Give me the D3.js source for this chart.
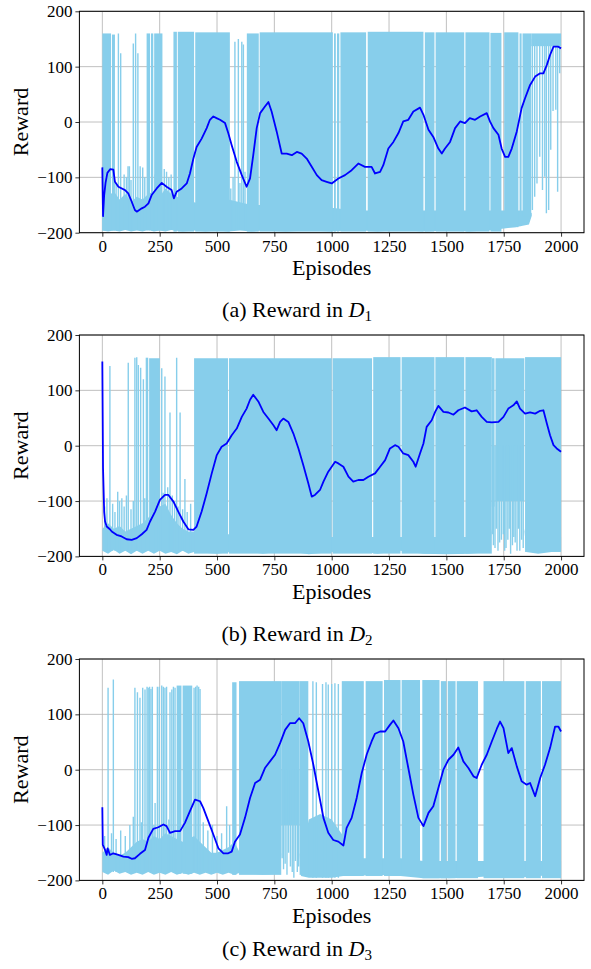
<!DOCTYPE html>
<html>
<head>
<meta charset="utf-8">
<script src="https://cdn.jsdelivr.net/npm/d3@7"></script>
<style>
  body { margin: 0; background: #fff; }
  svg { display: block; }
  text { font-family: "Liberation Serif", "Times New Roman", serif; fill: #000; }
</style>
</head>
<body>
<div id="chart"></div>
<script>
// x ticks shared by the three panels
var episodeTicks = [0, 250, 500, 750, 1000, 1250, 1500, 1750, 2000];
var rewardTicks = [-200, -100, 0, 100, 200];

// ---- D1 ----
// moving average reward [episode, reward]
var smoothD1 = [[0,-82],[3,-170],[8,-132],[14,-110],[22,-92],[35,-85],[48,-86],[55,-108],[70,-117],[99,-123],[113,-129],[128,-144],[142,-159],[150,-162],[172,-156],[186,-153],[201,-147],[215,-132],[237,-120],[259,-110],[280,-117],[302,-123],[312,-138],[324,-126],[346,-120],[368,-111],[382,-93],[397,-66],[411,-45],[433,-30],[455,-11],[469,4],[484,10],[498,7],[513,4],[535,-2],[549,-20],[564,-42],[586,-72],[608,-96],[629,-117],[644,-102],[658,-60],[673,-11],[688,16],[709,28],[724,36],[738,19],[760,-17],[782,-57],[804,-57],[826,-60],[848,-54],[869,-57],[891,-66],[913,-81],[935,-96],[956,-105],[978,-108],[1000,-111],[1029,-102],[1058,-96],[1087,-87],[1116,-75],[1145,-81],[1174,-81],[1189,-93],[1211,-90],[1225,-78],[1247,-48],[1269,-36],[1291,-20],[1312,1],[1334,4],[1356,19],[1385,26],[1400,13],[1422,-14],[1443,-27],[1465,-48],[1480,-57],[1494,-48],[1516,-36],[1538,-11],[1560,1],[1581,-2],[1602,7],[1625,4],[1647,10],[1676,16],[1690,1],[1705,-11],[1727,-23],[1741,-48],[1756,-63],[1770,-63],[1785,-48],[1807,-17],[1828,25],[1843,43],[1865,67],[1887,82],[1909,88],[1923,88],[1938,103],[1952,121],[1967,136],[1988,136],[2000,133]];
// raw reward: band of failed episodes [episode, low, high]
var baseD1 = [[0,-196,-120],[25,-198,-135],[50,-196,-125],[75,-198,-140],[100,-195,-130],[125,-198,-145],[150,-196,-135],[175,-198,-140],[200,-195,-130],[225,-198,-125],[250,-196,-135],[275,-198,-120],[300,-195,-130],[350,-198,-140],[400,-196,-145],[450,-198,-150],[500,-196,-150],[550,-198,-140],[600,-196,-145],[650,-198,-150],[700,-196,-150],[800,-198,-155],[900,-196,-155],[1000,-198,-155],[1100,-195,-160],[1200,-198,-160],[1300,-195,-160],[1400,-198,-160],[1500,-196,-160],[1600,-198,-160],[1700,-195,-160],[1800,-190,-160],[1860,-185,-160],[1872,-170,-165]];
// raw reward: stretches of dense oscillation [from, to, low, high]
var runsD1 = [[0,38,-196,160],[42,55,-196,158],[193,208,-196,160],[212,222,-196,160],[226,262,-196,160],[310,325,-198,163],[329,400,-198,163],[405,556,-198,162],[630,682,-198,160],[686,1005,-198,162],[1010,1018,-198,160],[1023,1033,-198,160],[1038,1150,-198,162],[1157,1400,-198,163],[1406,1448,-198,162],[1453,1578,-198,162],[1583,1688,-198,162],[1692,1740,-198,161],[1752,1814,-190,162],[1819,1828,-188,160],[1832,1870,-170,160],[1870,2000,137,160]];
// raw reward: isolated episodes [episode, low, high]
var spikesD1 = [[60,-195,-110],[70,-195,160],[80,-195,124],[95,-195,-95],[105,-195,-100],[112,-195,-80],[118,-195,-80],[125,-195,-105],[135,-195,142],[145,-195,160],[155,-195,124],[165,-195,-80],[176,-195,-82],[185,-195,-100],[230,-195,-95],[245,-195,-110],[270,-195,-85],[280,-195,-90],[290,-195,-100],[300,-195,-95],[560,-195,-120],[570,-195,-100],[578,-195,145],[593,-195,150],[600,-195,-110],[608,-195,145],[615,-195,140],[622,-195,-90],[1875,-159,150],[1885,-135,150],[1895,-111,150],[1907,-63,150],[1919,-123,150],[1929,-99,150],[1936,-165,150],[1946,-159,150],[1955,-50,150],[1965,20,150],[1977,22,150],[1985,-126,150],[1994,88,150]];

// ---- D2 ----
var smoothD2 = [[0,152],[3,-40],[8,-120],[12,-137],[19,-146],[33,-151],[41,-155],[62,-161],[84,-164],[106,-169],[128,-170],[150,-167],[172,-160],[193,-152],[208,-137],[230,-119],[251,-98],[273,-89],[288,-89],[310,-101],[331,-119],[353,-137],[375,-151],[397,-152],[411,-146],[433,-119],[455,-86],[477,-50],[499,-17],[520,-2],[542,4],[564,19],[586,31],[608,52],[629,67],[644,83],[658,92],[680,80],[702,61],[724,49],[746,37],[760,28],[775,43],[789,49],[811,43],[833,22],[855,-5],[876,-35],[898,-68],[913,-92],[927,-89],[949,-80],[964,-65],[985,-47],[1015,-29],[1029,-32],[1051,-38],[1073,-56],[1094,-65],[1116,-62],[1138,-62],[1160,-56],[1189,-50],[1211,-38],[1233,-26],[1254,-5],[1276,1],[1291,-2],[1312,-14],[1334,-17],[1356,-29],[1366,-38],[1385,-14],[1400,4],[1414,34],[1436,46],[1451,61],[1465,72],[1487,61],[1509,60],[1531,56],[1552,64],[1581,69],[1610,62],[1632,64],[1654,52],[1676,43],[1698,42],[1727,43],[1749,52],[1770,67],[1792,73],[1807,80],[1821,67],[1843,58],[1865,60],[1887,58],[1909,63],[1923,64],[1938,40],[1952,19],[1967,1],[1981,-5],[2000,-11]];
var baseD2 = [[0,-190,-150],[25,-195,-140],[50,-188,-150],[75,-195,-145],[100,-190,-155],[125,-196,-150],[150,-190,-145],[175,-195,-140],[200,-190,-130],[225,-195,-120],[250,-190,-110],[275,-195,-105],[300,-192,-125],[325,-196,-140],[350,-190,-150],[375,-195,-155],[400,-192,-155],[500,-195,-160],[600,-190,-160],[700,-195,-165],[800,-190,-165],[900,-196,-165],[1000,-192,-165],[1100,-190,-165],[1200,-195,-165],[1300,-190,-165],[1400,-195,-165],[1500,-196,-165],[1600,-195,-165],[1690,-192,-165],[1698,-150,-150],[1840,-150,-150],[1848,-192,-165],[1900,-195,-165],[2000,-190,-165]];
var runsD2 = [[189,200,-190,159],[204,251,-190,158],[400,548,-195,158],[552,1000,-195,158],[1004,1176,-195,158],[1181,1300,-195,160],[1305,1448,-195,160],[1452,1578,-195,160],[1583,1698,-195,160],[1698,1710,-110,158],[1714,1840,-100,158],[1843,2000,-192,160]];
var spikesD2 = [[10,-190,-110],[20,-190,-95],[33,-190,144],[45,-190,-105],[55,-190,-120],[67,-190,-83],[75,-190,-100],[85,-190,-95],[95,-190,-110],[105,-190,-90],[113,-190,150],[125,-190,-115],[135,-190,-100],[142,-190,159],[150,-190,160],[157,-190,146],[167,-190,141],[179,-190,120],[185,-190,-95],[215,-190,-90],[230,-190,-80],[245,-190,-95],[259,-190,140],[265,-190,-85],[273,-190,125],[285,-190,-75],[295,-190,60],[305,-190,-90],[315,-190,-100],[324,-190,159],[330,-190,-110],[339,-190,60],[350,-190,-115],[360,-190,-60],[370,-190,-120],[385,-190,-105],[1702,-160,0],[1705,-180,0],[1712,-185,0],[1718,-150,0],[1725,-190,0],[1732,-175,0],[1740,-170,0],[1748,-160,0],[1754,-190,0],[1760,-185,0],[1768,-170,0],[1774,-150,0],[1780,-195,0],[1788,-180,0],[1794,-165,0],[1800,-175,0],[1808,-190,0],[1814,-150,0],[1820,-190,0],[1828,-170,0],[1835,-185,0]];

// ---- D3 ----
var smoothD3 = [[0,-68],[2,-136],[12,-145],[19,-154],[23,-142],[33,-154],[48,-151],[70,-154],[92,-157],[113,-158],[128,-161],[142,-160],[164,-152],[186,-145],[201,-123],[222,-107],[244,-104],[266,-99],[280,-102],[295,-114],[317,-111],[339,-111],[360,-96],[382,-75],[404,-54],[426,-57],[440,-69],[462,-93],[484,-117],[506,-142],[528,-151],[549,-151],[564,-148],[578,-130],[600,-117],[622,-87],[644,-51],[666,-24],[688,-18],[709,3],[731,15],[753,27],[775,48],[797,72],[818,84],[840,84],[858,93],[876,84],[898,51],[920,9],[942,-39],[964,-87],[985,-114],[1007,-127],[1029,-130],[1051,-137],[1065,-105],[1087,-87],[1109,-51],[1131,-6],[1153,28],[1174,51],[1189,65],[1211,69],[1233,69],[1254,81],[1269,89],[1291,75],[1312,51],[1334,3],[1356,-45],[1378,-87],[1400,-102],[1422,-78],[1443,-66],[1465,-33],[1487,0],[1509,18],[1531,27],[1552,40],[1574,15],[1596,3],[1618,-12],[1632,-15],[1654,9],[1676,27],[1698,51],[1720,74],[1734,87],[1749,75],[1770,30],[1785,39],[1807,6],[1828,-21],[1850,-27],[1865,-24],[1887,-48],[1909,-15],[1930,9],[1952,39],[1974,78],[1988,78],[2000,69]];
var baseD3 = [[0,-185,-150],[25,-190,-140],[50,-182,-150],[75,-188,-155],[100,-185,-150],[125,-190,-140],[150,-186,-130],[175,-190,-125],[200,-185,-130],[225,-190,-120],[250,-186,-125],[275,-190,-115],[300,-185,-120],[325,-190,-125],[350,-186,-130],[375,-190,-125],[400,-186,-120],[425,-190,-130],[450,-186,-140],[475,-190,-150],[500,-186,-150],[525,-190,-145],[550,-186,-140],[575,-190,-130],[600,-186,-150],[700,-190,-160],[776,-188,-160],[780,-150,-150],[860,-150,-150],[866,-192,-160],[900,-195,-90],[950,-195,-80],[1000,-195,-90],[1050,-192,-120],[1100,-192,-160],[1200,-190,-160],[1300,-192,-160],[1400,-196,-165],[1500,-196,-165],[1600,-195,-165],[1700,-192,-165],[1800,-195,-165],[1900,-192,-165],[2000,-190,-165]];
var runsD3 = [[324,345,-188,152],[350,392,-188,152],[566,585,-190,158],[596,780,-190,160],[780,860,-100,160],[860,898,-190,160],[1044,1140,-192,160],[1148,1222,-192,160],[1228,1300,-192,162],[1305,1385,-192,162],[1395,1470,-196,162],[1476,1500,-196,160],[1506,1540,-196,160],[1545,1638,-196,160],[1662,1840,-196,160],[1846,1912,-196,160],[1917,2000,-196,160]];
var spikesD3 = [[10,-185,-120],[25,-185,148],[40,-185,-115],[48,-185,163],[60,-185,-125],[80,-185,-110],[100,-185,-120],[120,-185,-100],[135,-185,-85],[142,-185,148],[153,-185,140],[164,-185,130],[170,-185,-95],[176,-185,148],[186,-185,145],[195,-185,150],[200,-185,148],[206,-185,150],[212,-185,146],[218,-185,150],[225,-185,-100],[230,-185,-60],[240,-185,150],[248,-185,150],[259,-185,152],[266,-185,150],[273,-185,148],[280,-185,150],[290,-185,-90],[295,-185,140],[303,-185,145],[310,-185,150],[317,-185,148],[340,-185,-100],[360,-185,-85],[380,-185,-80],[400,-185,148],[407,-185,150],[413,-185,152],[420,-185,150],[426,-185,146],[440,-185,-95],[460,-185,-110],[480,-185,-100],[500,-185,-120],[520,-185,-115],[542,-185,-66],[555,-185,-100],[784,-160,0],[790,-180,0],[797,-170,0],[805,-190,0],[812,-150,0],[820,-175,0],[828,-185,0],[835,-195,0],[842,-165,0],[850,-185,0],[856,-175,0],[918,-195,160],[933,-195,158],[960,-195,155],[975,-195,158],[985,-195,154],[1000,-195,155],[1014,-195,156],[1029,-195,155]];

var panels = [
    {top: 11.3, capY: 316.7, smooth: smoothD1, base: baseD1, runs: runsD1, spikes: spikesD1, tag: "(a)", sub: "1"},
    {top: 335, capY: 641, smooth: smoothD2, base: baseD2, runs: runsD2, spikes: spikesD2, tag: "(b)", sub: "2"},
    {top: 659, capY: 956, smooth: smoothD3, base: baseD3, runs: runsD3, spikes: spikesD3, tag: "(c)", sub: "3"}
];

var width = 591, height = 969;
var axLeft = 79.4, axRight = 584, axHeight = 221.4;
var rawColor = "#87ceeb", avgColor = "#0000ff", gridColor = "#b0b0b0";

var svg = d3.select("#chart").append("svg")
    .attr("width", width)
    .attr("height", height);

svg.append("rect").attr("width", width).attr("height", height).attr("fill", "#fff");

var x = d3.scaleLinear().domain([-100, 2100]).range([axLeft, axRight]);

panels.forEach(function (p, i) {
    var bottom = p.top + axHeight;
    var y = d3.scaleLinear().domain([-200, 200]).range([bottom, p.top]);
    var g = svg.append("g");

    var clipId = "clip" + i;
    g.append("clipPath").attr("id", clipId)
        .append("rect")
        .attr("x", axLeft).attr("y", p.top)
        .attr("width", axRight - axLeft).attr("height", axHeight);

    // grid
    g.selectAll(".gx").data(episodeTicks).enter().append("line")
        .attr("x1", function (d) { return x(d); }).attr("x2", function (d) { return x(d); })
        .attr("y1", p.top).attr("y2", bottom)
        .attr("stroke", gridColor).attr("stroke-width", 0.8);
    g.selectAll(".gy").data(rewardTicks).enter().append("line")
        .attr("x1", axLeft).attr("x2", axRight)
        .attr("y1", function (d) { return y(d); }).attr("y2", function (d) { return y(d); })
        .attr("stroke", gridColor).attr("stroke-width", 0.8);

    var plot = g.append("g").attr("clip-path", "url(#" + clipId + ")");

    // raw reward per episode
    var area = d3.area()
        .x(function (d) { return x(d[0]); })
        .y0(function (d) { return y(d[1]); })
        .y1(function (d) { return y(d[2]); });
    plot.append("path").datum(p.base)
        .attr("d", area)
        .attr("fill", rawColor);

    plot.selectAll(".run").data(p.runs).enter().append("rect")
        .attr("x", function (d) { return x(d[0]); })
        .attr("width", function (d) { return x(d[1]) - x(d[0]); })
        .attr("y", function (d) { return y(d[3]); })
        .attr("height", function (d) { return y(d[2]) - y(d[3]); })
        .attr("fill", rawColor);

    plot.selectAll(".spike").data(p.spikes).enter().append("line")
        .attr("x1", function (d) { return x(d[0]); }).attr("x2", function (d) { return x(d[0]); })
        .attr("y1", function (d) { return y(d[1]); }).attr("y2", function (d) { return y(d[2]); })
        .attr("stroke", rawColor).attr("stroke-width", 1.4);

    // moving average
    var line = d3.line()
        .x(function (d) { return x(d[0]); })
        .y(function (d) { return y(d[1]); });
    plot.append("path").datum(p.smooth)
        .attr("d", line)
        .attr("fill", "none")
        .attr("stroke", avgColor)
        .attr("stroke-width", 1.8)
        .attr("stroke-linejoin", "round");

    // axes
    var xAxis = d3.axisBottom(x).tickValues(episodeTicks).tickFormat(d3.format("d")).tickSize(4).tickPadding(3);
    var gx = g.append("g").attr("transform", "translate(0," + bottom + ")").call(xAxis);
    var yAxis = d3.axisLeft(y).tickValues(rewardTicks).tickSize(4).tickPadding(3);
    var gy = g.append("g").attr("transform", "translate(" + axLeft + ",0)").call(yAxis);
    [gx, gy].forEach(function (a) {
        a.select(".domain").remove();
        a.selectAll("line").attr("stroke", "#000").attr("stroke-width", 0.8);
        a.selectAll("text").style("font-family", "'Liberation Serif', 'Times New Roman', serif").style("font-size", "17px").attr("fill", "#000");
    });

    g.append("rect")
        .attr("x", axLeft).attr("y", p.top)
        .attr("width", axRight - axLeft).attr("height", axHeight)
        .attr("fill", "none").attr("stroke", "#000").attr("stroke-width", 1);

    g.append("text")
        .attr("x", (axLeft + axRight) / 2).attr("y", bottom + 42.5)
        .attr("text-anchor", "middle")
        .style("font-size", "22px")
        .text("Episodes");

    g.append("text")
        .attr("transform", "translate(28," + (p.top + axHeight / 2) + ") rotate(-90)")
        .attr("text-anchor", "middle")
        .style("font-size", "22px")
        .text("Reward");

    var cap = g.append("text")
        .attr("x", 297).attr("y", p.capY)
        .attr("text-anchor", "middle")
        .style("font-size", "22px");
    cap.append("tspan").text(p.tag + " Reward in ");
    cap.append("tspan").style("font-style", "italic").text("D");
    cap.append("tspan").attr("dy", 4).style("font-size", "15px").text(p.sub);
});
</script>
</body>
</html>
